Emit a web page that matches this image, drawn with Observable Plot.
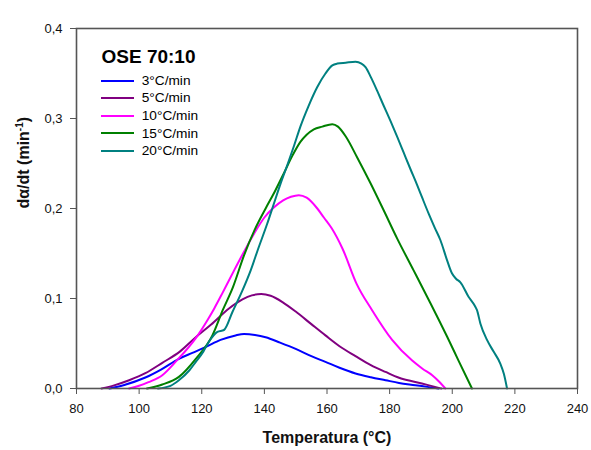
<!DOCTYPE html>
<html>
<head>
<meta charset="utf-8">
<script src="https://cdn.jsdelivr.net/npm/d3@7"></script>
<script src="https://cdn.jsdelivr.net/npm/@observablehq/plot@0.6"></script>
<style>
  html, body { margin: 0; padding: 0; background: #fff; }
  #wrap { position: relative; width: 591px; height: 450px; font-family: "Liberation Sans", Arial, sans-serif; }
  #title { position: absolute; left: 101.5px; top: 47px; font-size: 19px; line-height: 19px; font-weight: bold; color: #000; white-space: nowrap; }
  #legend { position: absolute; left: 100.7px; top: 71.9px; }
  .row { display: flex; align-items: center; height: 17.6px; }
  .sw { width: 33px; height: 2px; margin-right: 8px; }
  .lab { font-size: 13.7px; line-height: 17.6px; color: #000; white-space: nowrap; }
</style>
</head>
<body>
<div id="wrap"></div>
<script>
// ---- data ----
const titleText = "OSE 70:10";
const rates = ["3°C/min", "5°C/min", "10°C/min", "15°C/min", "20°C/min"];
const colors = ["#0000ff", "#800080", "#ff00ff", "#008000", "#008080"];
const xTicks = [80, 100, 120, 140, 160, 180, 200, 220, 240];
const yTicks = [0, 0.1, 0.2, 0.3, 0.4];
const xLabel = "Temperatura (°C)";
const yLabel = "dα/dt (min-1)";

const T3 = [90.5, 95, 102, 107, 112.7, 117, 121.2, 126, 130.8, 133.5, 137, 140.4, 145, 150, 155, 159.5, 164, 169.1, 174, 178.7, 183, 188.2, 192, 195.6];
const v3 = [0, 0.0037, 0.0122, 0.021, 0.033, 0.0396, 0.046, 0.054, 0.059, 0.0605, 0.0595, 0.057, 0.051, 0.044, 0.036, 0.0296, 0.023, 0.0167, 0.0125, 0.0092, 0.0062, 0.0037, 0.0018, 0];

const T5 = [88, 92, 96.8, 102, 107.4, 113, 118.1, 123, 128.7, 133, 136, 139, 142, 146, 150, 155, 159.5, 164, 169.1, 174, 178.7, 183, 188.2, 192, 196.5];
const v5 = [0, 0.0035, 0.0092, 0.017, 0.0285, 0.041, 0.057, 0.071, 0.0889, 0.099, 0.1035, 0.105, 0.103, 0.0955, 0.0855, 0.0715, 0.059, 0.047, 0.036, 0.026, 0.0184, 0.012, 0.0073, 0.004, 0];

const T10 = [96.8, 100, 103, 107.4, 112, 118.1, 122, 124, 126.6, 130.3, 133.5, 136.7, 140, 143, 146, 148.5, 151, 153.5, 156.9, 159, 161.5, 165, 169.5, 174.4, 180.8, 187.2, 190.5, 193.6, 196, 197.8];
const v10 = [0, 0.003, 0.007, 0.0148, 0.031, 0.056, 0.077, 0.089, 0.106, 0.131, 0.152, 0.172, 0.19, 0.201, 0.209, 0.213, 0.2148, 0.212, 0.2, 0.19, 0.178, 0.155, 0.116, 0.087, 0.054, 0.031, 0.022, 0.0148, 0.007, 0];

const T15 = [102.5, 107.4, 112.7, 118.1, 123.4, 126.7, 130, 133.5, 137, 140.4, 143.5, 146.2, 149, 151.5, 153.5, 155.8, 158.5, 161.7, 163.5, 166, 169.6, 173.9, 178.1, 182.5, 187.7, 193, 198.3, 202, 206.3];
const v15 = [0, 0.0044, 0.0129, 0.033, 0.059, 0.087, 0.113, 0.148, 0.177, 0.2, 0.22, 0.239, 0.259, 0.274, 0.282, 0.288, 0.291, 0.2937, 0.291, 0.28, 0.257, 0.228, 0.198, 0.166, 0.131, 0.095, 0.058, 0.031, 0];

const T20 = [106, 110, 112.7, 116, 118.1, 120.5, 122.3, 125, 127.1, 129.8, 133, 135.6, 138, 140.9, 143, 145.2, 147.5, 149.5, 151.5, 154, 156.9, 159.5, 161.7, 163.3, 166, 169.1, 171, 172.3, 174, 176, 178, 180.3, 182.5, 184.5, 186.5, 188.8, 190.4, 192.5, 194.5, 196.2, 198.3, 199.9, 201.2, 202.6, 205.2, 207.2, 207.9, 209, 211.1, 213.2, 215.3, 216.5, 217.5];
const v20 = [0, 0.003, 0.0092, 0.02, 0.0296, 0.041, 0.052, 0.063, 0.065, 0.085, 0.109, 0.131, 0.155, 0.183, 0.205, 0.228, 0.25, 0.27, 0.291, 0.313, 0.335, 0.35, 0.359, 0.361, 0.362, 0.363, 0.361, 0.357, 0.346, 0.331, 0.315, 0.297, 0.279, 0.262, 0.245, 0.226, 0.212, 0.194, 0.178, 0.165, 0.143, 0.128, 0.122, 0.118, 0.102, 0.092, 0.087, 0.072, 0.054, 0.041, 0.028, 0.016, 0];

const seriesT = [T3, T5, T10, T15, T20];
const seriesV = [v3, v5, v10, v15, v20];

const data = [];
seriesT.forEach((Ts, i) => Ts.forEach((t, j) => data.push({T: t, v: seriesV[i][j], rate: rates[i]})));

const fmtY = d => d.toFixed(1).replace(".", ",");

const chart = Plot.plot({
  width: 591,
  height: 450,
  marginLeft: 76,
  marginRight: 14,
  marginTop: 28,
  marginBottom: 62,
  style: {fontFamily: "'Liberation Sans', Arial, sans-serif", fontSize: "13px", background: "#fff", color: "#111", overflow: "visible"},
  x: {domain: [80, 240]},
  y: {domain: [0, 0.4]},
  color: {domain: rates, range: colors},
  marks: [
    Plot.axisX({ticks: xTicks, tickFormat: d => String(d), tickSize: 6, tickPadding: 9, stroke: "#555", fill: "#111", label: null, fontSize: 13}),
    Plot.axisY({ticks: yTicks, tickFormat: fmtY, tickSize: 6, tickPadding: 8, stroke: "#555", fill: "#111", label: null, fontSize: 13}),
    Plot.line(data, {x: "T", y: "v", z: "rate", stroke: "rate", strokeWidth: 2, curve: "monotone-x"}),
    Plot.frame({stroke: "#555", strokeWidth: 1.6}),
    Plot.text([xLabel], {frameAnchor: "bottom", dy: 54, text: d => d, fontWeight: "bold", fontSize: 16, fill: "#111"}),
    Plot.text([yLabel], {frameAnchor: "left", dx: -53, rotate: -90, text: d => d, fontWeight: "bold", fontSize: 16, fill: "#111"})
  ]
});

// superscript for min-1
d3.select(chart).selectAll("text").each(function() {
  const el = this;
  if (el.textContent === yLabel) {
    el.textContent = "";
    const ns = "http://www.w3.org/2000/svg";
    const a = document.createElementNS(ns, "tspan"); a.textContent = "dα/dt (min";
    const b = document.createElementNS(ns, "tspan"); b.textContent = "-1"; b.setAttribute("font-size", "10"); b.setAttribute("dy", "-6");
    const c = document.createElementNS(ns, "tspan"); c.textContent = ")"; c.setAttribute("dy", "6");
    el.append(a, b, c);
  }
});

const wrap = document.getElementById("wrap");
wrap.appendChild(chart);

const t = document.createElement("div");
t.id = "title"; t.textContent = titleText;
wrap.appendChild(t);

const leg = document.createElement("div");
leg.id = "legend";
rates.forEach((r, i) => {
  const row = document.createElement("div"); row.className = "row";
  const sw = document.createElement("div"); sw.className = "sw"; sw.style.background = colors[i];
  const lab = document.createElement("span"); lab.className = "lab"; lab.textContent = r;
  row.append(sw, lab);
  leg.appendChild(row);
});
wrap.appendChild(leg);
</script>
</body>
</html>
